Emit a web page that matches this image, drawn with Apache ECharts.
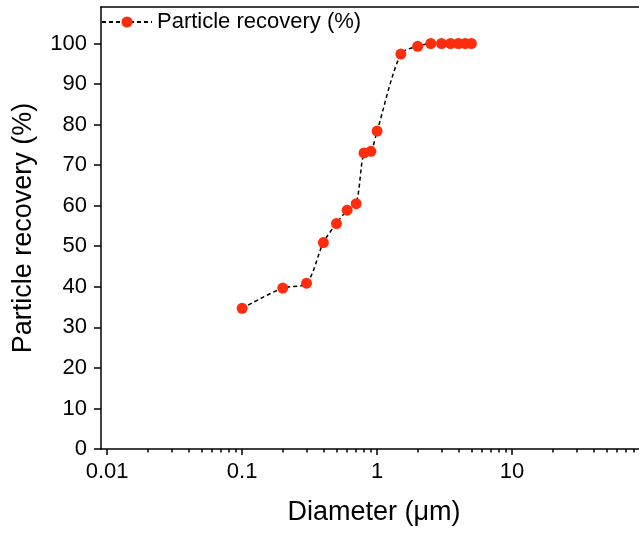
<!DOCTYPE html>
<html>
<head>
<meta charset="utf-8">
<title>Particle recovery</title>
<script src="https://cdn.jsdelivr.net/npm/echarts@6/dist/echarts.min.js"></script>
<style>
  html, body { margin: 0; padding: 0; background: #fff; overflow: hidden; }
  #charts { width: 652px; height: 541px; }
</style>
</head>
<body>
<div id="charts"></div>
<script type="text/javascript">
// diameter (um) and recovery (%)
var diameter = [0.1, 0.2, 0.3, 0.4, 0.5, 0.6, 0.7, 0.8, 0.9, 1.0, 1.5, 2, 2.5, 3, 3.5, 4, 4.5, 5];
var recovery = [34.7, 39.7, 40.9, 50.9, 55.6, 58.9, 60.5, 73.0, 73.4, 78.4, 97.4, 99.3, 100, 100, 100, 100, 100, 100];

var majorTicks = [0.01, 0.1, 1, 10, 100];
var minorTicks = [];
majorTicks.slice(0, 4).forEach(function (d) {
    for (var k = 2; k <= 9; k++) minorTicks.push(+(d * k).toPrecision(3));
});
var xLabels = [0.01, 0.1, 1, 10];

var points = diameter.map(function (d, i) { return [d, recovery[i]]; });

var font = 'Liberation Sans, Arial, sans-serif';
var dom = document.getElementById('charts');
var myChart = echarts.init(dom);

var option = {
    animation: false,
    backgroundColor: '#fff',
    grid: {
        left: 101,
        right: 5,
        top: 7,
        bottom: 92
    },
    legend: {
        left: 101,
        top: 11,
        padding: 0,
        itemWidth: 50,
        itemHeight: 14,
        itemGap: 8,
        textStyle: { fontFamily: font, fontSize: 22, color: '#000' },
        data: ['Particle recovery (%)']
    },
    xAxis: [{
        type: 'log',
        logBase: 10,
        min: 0.009,
        max: 100,
        name: 'Diameter (\u03bcm)',
        nameLocation: 'middle',
        nameGap: 50,
        nameTextStyle: { fontFamily: font, fontSize: 27, color: '#000' },
        axisLine: { show: true, lineStyle: { color: '#000', width: 1.5 } },
        axisTick: { show: true, inside: false, length: 6, customValues: majorTicks, lineStyle: { color: '#000', width: 1.5 } },
        axisLabel: {
            customValues: xLabels,
            margin: 12,
            fontFamily: font, fontSize: 22, color: '#000',
            formatter: function (v) { return String(+v.toPrecision(3)); }
        },
        splitLine: { show: false }
    }, {
        type: 'log',
        logBase: 10,
        min: 0.009,
        max: 100,
        position: 'bottom',
        axisLine: { show: false },
        axisTick: { show: true, inside: false, length: 3.5, customValues: minorTicks, lineStyle: { color: '#000', width: 1.5 } },
        axisLabel: { show: false },
        splitLine: { show: false }
    }, {
        // top frame line
        type: 'log',
        logBase: 10,
        min: 0.009,
        max: 100,
        position: 'top',
        axisLine: { show: true, lineStyle: { color: '#000', width: 1.5 } },
        axisTick: { show: false },
        axisLabel: { show: false },
        splitLine: { show: false }
    }],
    yAxis: {
        type: 'value',
        min: 0,
        max: 109,
        interval: 10,
        name: 'Particle recovery (%)',
        nameLocation: 'middle',
        nameGap: 64,
        nameTextStyle: { fontFamily: font, fontSize: 27, color: '#000' },
        axisLine: { show: true, lineStyle: { color: '#000', width: 1.5 } },
        axisTick: { show: true, inside: false, length: 7, lineStyle: { color: '#000', width: 1.5 } },
        axisLabel: {
            margin: 14,
            fontFamily: font, fontSize: 22, color: '#000',
            showMaxLabel: false
        },
        splitLine: { show: false }
    },
    series: [{
        name: 'Particle recovery (%)',
        type: 'line',
        xAxisIndex: 0,
        data: points,
        smooth: 0.3,
        symbol: 'circle',
        symbolSize: 11,
        itemStyle: { color: '#ff2d0d' },
        lineStyle: { color: '#000', width: 1.5, type: [4, 3] }
    }]
};

myChart.setOption(option, true);
</script>
</body>
</html>
